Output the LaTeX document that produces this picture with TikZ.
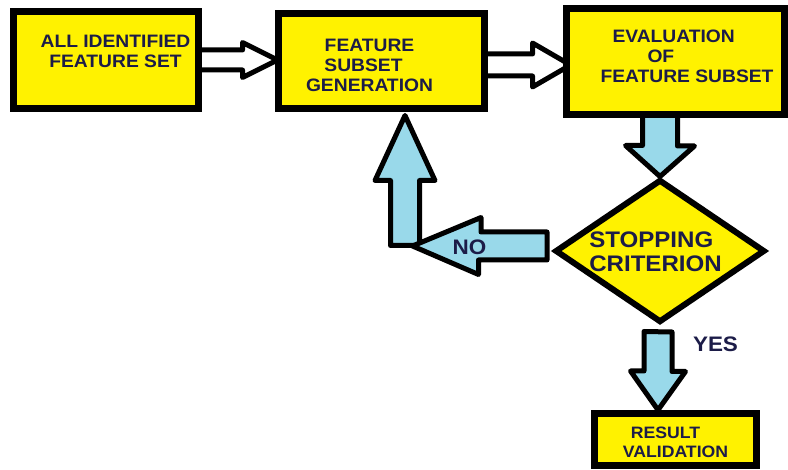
\documentclass[tikz,border=0pt]{standalone}
\usepackage{fontspec}
\setmainfont{Liberation Sans}[FakeStretch=1.07]
\usetikzlibrary{shapes.geometric, calc, backgrounds}
\definecolor{boxyellow}{RGB}{255,242,0}
\definecolor{arrowblue}{RGB}{153,217,234}
\definecolor{labelnavy}{RGB}{28,28,72}

\begin{document}
\begin{tikzpicture}[x=1pt, y=-1pt,
    stagebox/.style={draw=black, line width=7pt, fill=boxyellow, inner sep=0pt,
      text=labelnavy, font=\bfseries\fontsize{18}{20}\selectfont},
    decision/.style={diamond, aspect=1.5, draw=black, line width=6pt, fill=boxyellow,
      inner sep=0pt, text=labelnavy, font=\bfseries\fontsize{22.5}{24}\selectfont},
    hollowarrow/.style={draw=black, line width=5pt, fill=white, line join=round},
    flowarrow/.style={draw=black, line width=5pt, fill=arrowblue, line join=round},
    answer/.style={text=labelnavy, inner sep=0pt, font=\bfseries\fontsize{21}{21}\selectfont}]
  \useasboundingbox (0,0) rectangle (788,470);
  % Stages of the selection loop
  \node[stagebox, minimum width=185pt, minimum height=97pt] (allset) at (106,60)
    {\raisebox{6pt}[\height][\depth]{\hspace*{19pt}\begin{tabular}{@{}c@{}}ALL IDENTIFIED\\FEATURE SET\end{tabular}}};
  \node[stagebox, minimum width=206pt, minimum height=95pt] (genset) at (381.5,61)
    {\raisebox{-7pt}[\height][\depth]{\hspace*{-24pt}\begin{tabular}{@{}c@{}}FEATURE\\\hspace*{-12pt}SUBSET\\GENERATION\end{tabular}}};
  \node[stagebox, minimum width=218pt, minimum height=106pt] (evalset) at (675.5,61.5)
    {\raisebox{2.5pt}[\height][\depth]{\hspace*{23pt}\begin{tabular}{@{}l@{}}\hspace*{12pt}EVALUATION\\\hspace*{47pt}OF\\FEATURE SUBSET\end{tabular}}};
  \node[decision, minimum width=210pt, minimum height=143pt] (stop) at (660,251)
    {\raisebox{-3.5pt}[\height][\depth]{\hspace*{-9pt}\begin{tabular}{@{}l@{}}STOPPING\\CRITERION\end{tabular}}};
  \node[stagebox, minimum width=162pt, minimum height=52pt,
    font=\bfseries\fontsize{16.5}{20}\selectfont] (result) at (675.5,439.5)
    {\raisebox{-4.5pt}[\height][\depth]{\begin{tabular}{@{}l@{}}\hspace*{8pt}RESULT\\VALIDATION\end{tabular}}};
  % Bend of the NO branch
  \coordinate (nocorner) at ($(stop.west -| genset.south)+(23.5,-5)$);
  \begin{scope}[on background layer]
    % Hollow arrows between the top stages
    \draw[hollowarrow] ($(allset.east)+(-4,-10)$) -- ++(44.5,0) -- ++(0,-7.5)
      -- ($(genset.west)+(2.5,-1)$) -- ++(-35,17.5) -- ++(0,-7.5) -- ($(allset.east)+(-4,10)$) -- cycle;
    \draw[hollowarrow] ($(genset.east)+(-4,-7)$) -- ++(48.5,0) -- ++(0,-11)
      -- ($(evalset.west)+(7.5,3.5)$) -- ++(-38,22) -- ++(0,-11) -- ($(genset.east)+(-4,15)$) -- cycle;
    % Evaluation into the stopping test
    \draw[flowarrow] ($(stop.north |- evalset.south)+(-17.5,-4)$) -- ++(0,31.5) -- ++(-17,0)
      -- (stop.north) -- ++(34.5,-30.5) -- ++(-17,0) -- ++(0,-31.5) -- cycle;
    % NO branch back to generation
    \draw[flowarrow] ($(nocorner)+(-14.5,-0.5)$) -- ++(0,-65) -- ++(-15.5,0)
      -- ($(genset.south)+(23.5,3.5)$) -- ++(30,65) -- ++(-15.5,0) -- ++(0,65) -- cycle;
    \draw[flowarrow] ($(stop.west)+(-5,-19)$) -- ++(-66,0) -- ++(0,-14.5)
      -- ($(nocorner)+(7.5,0)$) -- ++(66,28.5) -- ++(0,-14.5) -- ($(stop.west)+(-5,9)$) -- cycle;
    % YES branch to validation
    \draw[flowarrow] ($(stop.south)+(-16,6)$) -- ++(0,39.5) -- ++(-13.5,0)
      -- ($(stop.south |- result.north)+(-2,0)$) -- ++(27.5,-38.5) -- ++(-13.5,0) -- ++(0,-39.5) -- cycle;
  \end{scope}
  % Branch labels
  \node[answer] (nolabel) at (469.5,247.5) {NO};
  \node[answer] (yeslabel) at (715.5,344.5) {YES};
\end{tikzpicture}
\end{document}
